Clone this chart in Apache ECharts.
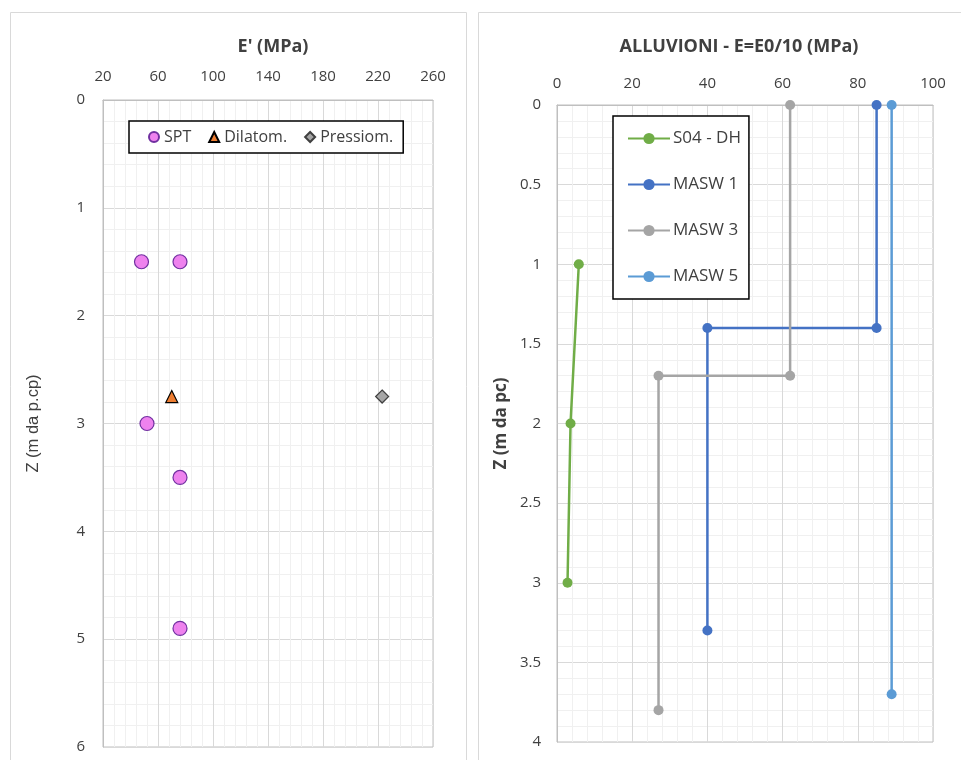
<!DOCTYPE html>
<html><head><meta charset="utf-8">
<script src="https://cdn.jsdelivr.net/npm/echarts@6/dist/echarts.min.js"></script>
<style>html,body{margin:0;padding:0;background:#fff}#c{width:961px;height:760px}</style>
</head><body><div id="c"></div>
<script>
// Left chart data: [E' (MPa), Z (m)]
const sptData = [[48, 1.5], [76, 1.5], [52, 3.0], [76, 3.5], [76, 4.9]];
const dilatomData = [[70, 2.75]];
const pressiomData = [[223, 2.75]];
// Right chart data: [E (MPa), Z (m)]
const s04Data = [[5.8, 1.0], [3.6, 2.0], [2.8, 3.0]];
const masw1Data = [[85, 0], [85, 1.4], [40, 1.4], [40, 3.3]];
const masw3Data = [[62, 0], [62, 1.7], [27, 1.7], [27, 3.8]];
const masw5Data = [[89, 0], [89, 3.7]];

const FONT = '"Open Sans", sans-serif';
const ARIAL = '"Liberation Sans", Arial, sans-serif';
const txt = '#404040';
const major = '#D9D9D9';
const minor = '#F0F0F0';

function valueAxis(o) {
  return Object.assign({
    type: 'value',
    axisTick: { show: false },
    axisLine: { show: true, lineStyle: { color: '#BFBFBF', width: 1 } },
    splitLine: { show: true, lineStyle: { color: major, width: 1 } },
    minorTick: { show: false, splitNumber: 5 },
    minorSplitLine: { show: true, lineStyle: { color: minor, width: 1 } }
  }, o);
}
const tickLabel = (m) => ({ color: txt, fontSize: 15, fontFamily: FONT, margin: m });

const chart = echarts.init(document.getElementById('c'));
chart.setOption({
  animation: false,
  textStyle: { fontFamily: FONT },
  graphic: [
    { type: 'rect', shape: { x: 10.5, y: 12.5, width: 456, height: 770 }, style: { fill: 'none', stroke: '#D9D9D9', lineWidth: 1 }, z: -10 },
    { type: 'rect', shape: { x: 478.5, y: 12.5, width: 500, height: 770 }, style: { fill: 'none', stroke: '#D9D9D9', lineWidth: 1 }, z: -10 }
  ],
  title: [
    { text: "E' (MPa)", left: 268, top: 33, textAlign: 'center', textStyle: { fontSize: 18, fontWeight: 'bold', color: txt, fontFamily: FONT } },
    { text: 'ALLUVIONI - E=E0/10 (MPa)', left: 734, top: 33, textAlign: 'center', textStyle: { fontSize: 18, fontWeight: 'bold', color: txt, fontFamily: FONT } }
  ],
  grid: [
    { left: 103, top: 100, width: 330, height: 647, show: true, borderColor: '#BFBFBF', borderWidth: 1, backgroundColor: 'transparent' },
    { left: 557, top: 105, width: 376, height: 637, show: true, borderColor: '#BFBFBF', borderWidth: 1, backgroundColor: 'transparent' }
  ],
  xAxis: [
    valueAxis({ gridIndex: 0, position: 'top', min: 20, max: 260, interval: 40, axisLabel: tickLabel(16) }),
    valueAxis({ gridIndex: 1, position: 'top', min: 0, max: 100, interval: 20, axisLabel: tickLabel(14) })
  ],
  yAxis: [
    valueAxis({ gridIndex: 0, inverse: true, min: 0, max: 6, interval: 1,
      name: 'Z (m da p.cp)', nameLocation: 'middle', nameGap: 61,
      nameTextStyle: { color: txt, fontSize: 16.5, fontFamily: ARIAL },
      axisLabel: tickLabel(18) }),
    valueAxis({ gridIndex: 1, inverse: true, min: 0, max: 4, interval: 0.5,
      name: 'Z (m da pc)', nameLocation: 'middle', nameGap: 47,
      nameTextStyle: { color: txt, fontSize: 17, fontWeight: 'bold', fontFamily: FONT },
      axisLabel: tickLabel(16) })
  ],
  legend: [
    {
      data: ['SPT', 'Dilatom.', 'Pressiom.'],
      orient: 'horizontal', left: 129, top: 121, width: 290,
      padding: [8, 10, 8, 19], itemGap: 17, itemWidth: 10, itemHeight: 10,
      borderColor: '#000', borderWidth: 1.5, backgroundColor: '#fff',
      textStyle: { color: txt, fontSize: 16, fontFamily: FONT }
    },
    {
      data: ['S04 - DH', 'MASW 1', 'MASW 3', 'MASW 5'],
      orient: 'vertical', left: 613, top: 116,
      padding: [14, 8, 14, 14], itemGap: 29, itemWidth: 42, itemHeight: 14,
      borderColor: '#000', borderWidth: 1.5, backgroundColor: '#fff',
      textStyle: { color: txt, fontSize: 17, fontFamily: FONT, padding: [0, 0, 0, -2] }
    }
  ],
  series: [
    { name: 'SPT', type: 'scatter', xAxisIndex: 0, yAxisIndex: 0, data: sptData, symbol: 'circle', symbolSize: 14,
      itemStyle: { color: '#EE82EE', borderColor: '#7030A0', borderWidth: 1.2, opacity: 1 } },
    { name: 'Dilatom.', type: 'scatter', xAxisIndex: 0, yAxisIndex: 0, data: dilatomData, symbol: 'triangle', symbolSize: 12,
      itemStyle: { color: '#ED7D31', borderColor: '#000', borderWidth: 1.2, opacity: 1 } },
    { name: 'Pressiom.', type: 'scatter', xAxisIndex: 0, yAxisIndex: 0, data: pressiomData, symbol: 'diamond', symbolSize: 13,
      itemStyle: { color: '#A5A5A5', borderColor: '#404040', borderWidth: 1.2, opacity: 1 } },
    { name: 'S04 - DH', type: 'line', xAxisIndex: 1, yAxisIndex: 1, data: s04Data, symbol: 'circle', symbolSize: 10, showAllSymbol: true,
      lineStyle: { color: '#70AD47', width: 2.5 }, itemStyle: { color: '#70AD47' } },
    { name: 'MASW 1', type: 'line', xAxisIndex: 1, yAxisIndex: 1, data: masw1Data, symbol: 'circle', symbolSize: 10, showAllSymbol: true,
      lineStyle: { color: '#4472C4', width: 2.5 }, itemStyle: { color: '#4472C4' } },
    { name: 'MASW 3', type: 'line', xAxisIndex: 1, yAxisIndex: 1, data: masw3Data, symbol: 'circle', symbolSize: 10, showAllSymbol: true,
      lineStyle: { color: '#A5A5A5', width: 2.5 }, itemStyle: { color: '#A5A5A5' } },
    { name: 'MASW 5', type: 'line', xAxisIndex: 1, yAxisIndex: 1, data: masw5Data, symbol: 'circle', symbolSize: 10, showAllSymbol: true,
      lineStyle: { color: '#5B9BD5', width: 2.5 }, itemStyle: { color: '#5B9BD5' } }
  ]
});
</script>
</body></html>
